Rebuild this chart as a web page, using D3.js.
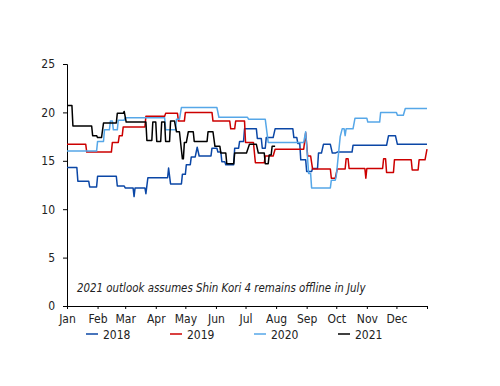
<!DOCTYPE html>
<html>
<head>
<meta charset="utf-8">
<script src="https://cdn.jsdelivr.net/npm/d3@7"></script>
<style>
  body { margin: 0; background: #fff; }
  svg text { font-family: "DejaVu Sans Condensed", "DejaVu Sans", sans-serif; fill: #222; }
  .axis path, .axis line { stroke: #000; }
</style>
</head>
<body>
<div id="chart"></div>
<script>
// values, as [day of year, value] points
var years = ["2018", "2019", "2020", "2021"];
var colours = ["#0b47a6", "#cc0000", "#56a7e8", "#000000"];

var series2018 = [[0,14.3],[10,14.3],[11,12.9],[22,12.9],[23,12.3],[30,12.3],[31,13.4],[50,13.4],
  [51,12.4],[58,12.4],[59,12.2],[67,12.2],[68,11.3],[69,12.2],[79,12.2],[80,11.6],[82,13.25],[102,13.25],
  [103,14.25],[105,12.6],[116,12.6],[117,13.6],[120,13.6],[121,14.6],[125,14.6],[126,15.4],[130,15.4],
  [132,16.4],[134,15.5],[146,15.5],[147,16.3],[152,16.3],[153,15.9],[156,15.9],[157,14.9],[160,14.9],
  [161,14.6],[169,14.6],[170,16.3],[174,16.3],[175,17.0],[179,17.0],[180,18.3],[192,18.3],[193,17.3],
  [197,17.3],[198,16.3],[201,16.3],[202,17.4],[209,17.4],[211,18.3],[229,18.3],[230,17.4],[233,17.4],
  [234,16.8],[236,16.8],[237,15.1],[242,15.1],[243,13.9],[248,13.9],[249,14.2],[254,14.2],[255,15.8],
  [258,15.8],[260,16.7],[267,16.7],[269,15.8],[272,15.8],[274,15.9],[289,15.9],[290,16.6],[324,16.6],
  [326,17.6],[333,17.6],[335,16.7],[365,16.7]];

var series2019 = [[0,16.7],[19,16.7],[20,15.9],[45,15.9],[46,16.9],[52,16.9],[53,17.6],[56,17.6],
  [57,18.5],[79,18.5],[80,19.6],[99,19.6],[100,19.9],[112,19.9],[113,19.1],[119,19.1],[120,20.0],
  [147,20.0],[148,19.1],[165,19.1],[166,18.3],[170,18.3],[171,19.1],[180,19.1],[181,16.9],[189,16.9],
  [191,14.8],[200,14.8],[201,15.5],[209,15.5],[211,16.2],[240,16.2],[242,17.9],[244,15.5],[247,15.5],
  [249,14.15],[267,14.15],[268,13.2],[272,13.2],[274,14.15],[282,14.15],[283,15.2],[285,15.2],
  [286,14.2],[302,14.2],[303,13.2],[304,14.2],[320,14.2],[321,15.2],[323,15.2],[324,13.8],[331,13.8],
  [332,15.1],[349,15.1],[350,14.05],[356,14.05],[357,15.1],[363,15.1],[365,16.2]];

var series2020 = [[0,16.0],[30,16.0],[31,17.0],[37,17.0],[38,18.2],[43,18.2],[44,19.1],[46,19.1],
  [47,18.2],[51,18.2],[52,19.2],[58,19.2],[59,19.45],[99,19.45],[100,18.2],[110,18.2],[111,19.3],
  [114,19.3],[116,20.5],[152,20.5],[154,19.5],[183,19.5],[184,19.3],[201,19.3],[204,16.9],[240,16.9],
  [242,18.0],[245,13.7],[247,13.7],[248,12.2],[267,12.2],[268,13.0],[272,13.0],[273,13.4],[277,17.5],
  [279,18.3],[281,18.3],[282,17.6],[283,18.3],[290,18.3],[292,19.4],[304,19.4],[305,19.0],[317,19.0],
  [318,20.0],[334,20.0],[335,19.7],[341,19.7],[343,20.4],[365,20.4]];

var series2021 = [[0,20.7],[5,20.7],[6,18.6],[25,18.6],[26,17.6],[30,17.6],[31,17.4],[35,17.4],
  [37,18.9],[50,18.9],[51,19.9],[57,19.9],[58,20.1],[60,19.0],[80,19.0],[81,17.1],[86,17.1],[87,19.0],
  [90,19.0],[91,17.0],[95,17.0],[96,19.0],[99,19.0],[100,17.0],[104,17.0],[105,19.1],[109,19.1],
  [111,18.0],[114,18.0],[117,15.2],[118,15.2],[119,16.9],[121,16.9],[123,18.0],[128,18.0],[129,17.0],
  [142,17.0],[143,18.0],[148,18.0],[150,16.5],[155,16.5],[156,15.8],[161,15.8],[162,14.7],[169,14.7],
  [170,15.8],[182,15.8],[185,16.7],[192,16.7],[194,15.8],[200,15.8],[201,14.7],[204,14.7],[205,15.6],
  [207,15.6],[208,16.5],[211,16.5]];

var allSeries = [series2018, series2019, series2020, series2021];
var yTicks = [0, 5, 10, 15, 20, 25];
var note = "2021 outlook assumes Shin Kori 4 remains offline in July";

var width = 500, height = 386;
var svg = d3.select("#chart").append("svg")
  .attr("width", width).attr("height", height);

var start = new Date(2021, 0, 1), end = new Date(2022, 0, 1);
var xScale = d3.scaleTime().domain([start, end]).range([67, 427]);
var yScale = d3.scaleLinear().domain([0, 25]).range([306, 64]);

var xAxis = d3.axisBottom(xScale)
  .ticks(d3.timeMonth.every(1))
  .tickSize(3).tickPadding(5)
  .tickFormat(function(d) { return d.getFullYear() > 2021 ? "" : d3.timeFormat("%b")(d); });
svg.append("g").attr("class", "axis")
  .attr("transform", "translate(0,306)")
  .call(xAxis)
  .call(function(g) { g.selectAll("text").style("font-size", "12px"); });

var yAxis = d3.axisLeft(yScale).tickValues(yTicks).tickSize(4).tickPadding(8);
svg.append("g").attr("class", "axis")
  .attr("transform", "translate(67,0)")
  .call(yAxis)
  .call(function(g) { g.selectAll("text").style("font-size", "12px"); });

var line = d3.line()
  .x(function(d) { return xScale(d3.timeDay.offset(start, d[0])); })
  .y(function(d) { return yScale(d[1]); });

for (var i = 0; i < allSeries.length; i++) {
  svg.append("path")
    .attr("d", line(allSeries[i]))
    .attr("fill", "none")
    .attr("stroke", colours[i])
    .attr("stroke-width", 1.5)
    .attr("stroke-linejoin", "round");
}

svg.append("text")
  .attr("x", 77).attr("y", 292)
  .style("font-size", "11.4px")
  .style("font-style", "italic")
  .text(note);

// legend
var legend = svg.append("g").attr("transform", "translate(86,334)");
for (var k = 0; k < years.length; k++) {
  var item = legend.append("g").attr("transform", "translate(" + (k * 84) + ",0)");
  item.append("line")
    .attr("x1", 0).attr("x2", 12).attr("y1", 0).attr("y2", 0)
    .attr("stroke", colours[k]).attr("stroke-width", 1.5);
  item.append("text")
    .attr("x", 17).attr("y", 4.5)
    .style("font-size", "12px")
    .text(years[k]);
}
</script>
</body>
</html>
